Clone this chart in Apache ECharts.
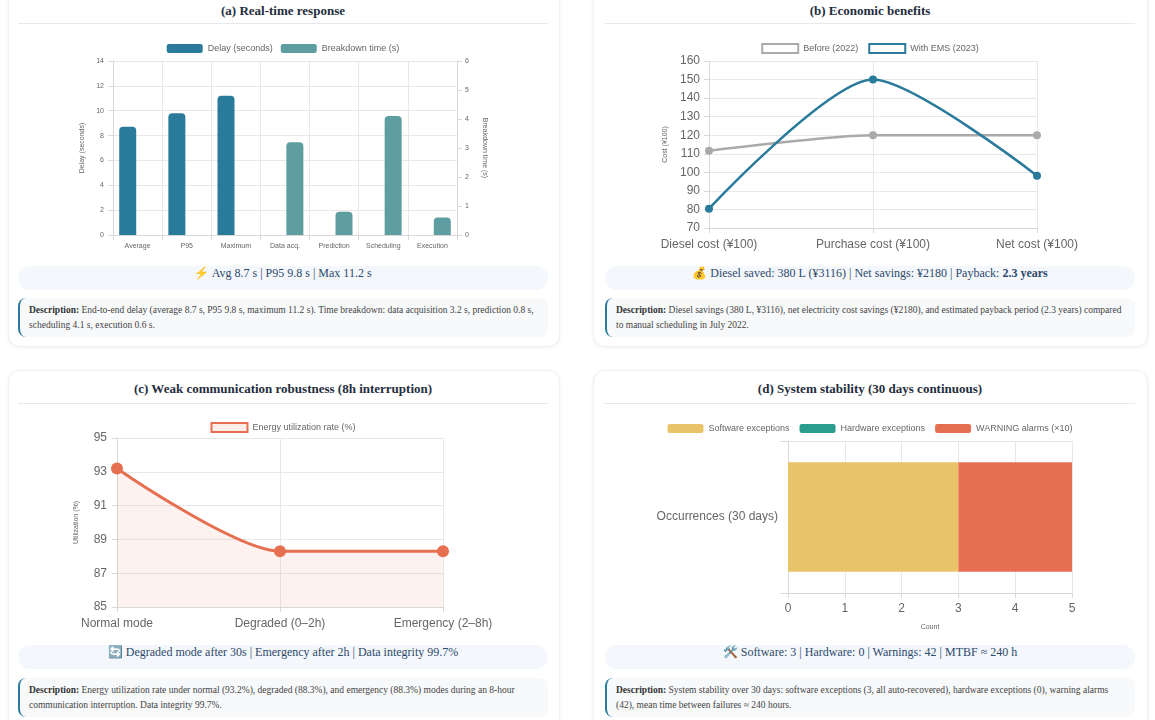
<!DOCTYPE html>
<html>
<head>
<meta charset="utf-8">
<script src="https://cdn.jsdelivr.net/npm/echarts@6/dist/echarts.min.js"></script>
<style>
  html, body { margin: 0; padding: 0; background: #fff; width: 1155px; height: 720px; overflow: hidden; }
  .card { position: absolute; background: #fff; border: 1px solid #eef0f3; border-radius: 12px; box-shadow: 0 1px 4px rgba(0,0,0,0.06); }
  .title { position: absolute; height: 20px; line-height: 20px; text-align: center; font: bold 13px "Liberation Serif", serif; color: #1f2d3d; }
  .sep { position: absolute; height: 1px; background: #e6e8eb; }
  .chart { position: absolute; }
  .stat { position: absolute; height: 24px; line-height: 24px; border-radius: 12px; background: #f4f7fb; text-align: center; font: 12px "Liberation Serif", serif; color: #2c4a6b; }
  .desc { position: absolute; box-sizing: border-box; background: #f8f9fa; border-left: 2.5px solid #2a7a9b; border-radius: 8px; padding: 5px 9px; font: 9.5px/15px "Liberation Serif", serif; color: #444; }
  .desc b { color: #333; }
</style>
</head>
<body>
<div class="card" style="left:8px;top:-12px;width:550px;height:357px"></div>
<div class="card" style="left:593px;top:-12px;width:553px;height:357px"></div>
<div class="card" style="left:8px;top:370px;width:550px;height:360px"></div>
<div class="card" style="left:593px;top:370px;width:553px;height:360px"></div>

<div class="title" style="left:18px;top:3px;width:530px">(a) Real-time response</div>
<div class="sep" style="left:18px;top:23px;width:530px"></div>
<div id="chartA" class="chart" style="left:18px;top:32px;width:530px;height:228px"></div>
<div class="stat" style="left:18px;top:266px;width:530px">⚡ Avg 8.7 s | P95 9.8 s | Max 11.2 s</div>
<div class="desc" style="left:18px;top:298px;width:530px;height:39px"><b>Description:</b> End-to-end delay (average 8.7 s, P95 9.8 s, maximum 11.2 s). Time breakdown: data acquisition 3.2 s, prediction 0.8 s, scheduling 4.1 s, execution 0.6 s.</div>

<div class="title" style="left:605px;top:3px;width:530px">(b) Economic benefits</div>
<div class="sep" style="left:605px;top:23px;width:530px"></div>
<div id="chartB" class="chart" style="left:605px;top:32px;width:530px;height:228px"></div>
<div class="stat" style="left:605px;top:266px;width:530px">💰 Diesel saved: 380 L (¥3116) | Net savings: ¥2180 | Payback: <b>2.3 years</b></div>
<div class="desc" style="left:605px;top:298px;width:530px;height:39px"><b>Description:</b> Diesel savings (380 L, ¥3116), net electricity cost savings (¥2180), and estimated payback period (2.3 years) compared to manual scheduling in July 2022.</div>

<div class="title" style="left:18px;top:381px;width:530px">(c) Weak communication robustness (8h interruption)</div>
<div class="sep" style="left:18px;top:403px;width:530px"></div>
<div id="chartC" class="chart" style="left:18px;top:410px;width:530px;height:228px"></div>
<div class="stat" style="left:18px;top:645px;width:530px">🔄 Degraded mode after 30s | Emergency after 2h | Data integrity 99.7%</div>
<div class="desc" style="left:18px;top:678px;width:530px;height:39px"><b>Description:</b> Energy utilization rate under normal (93.2%), degraded (88.3%), and emergency (88.3%) modes during an 8-hour communication interruption. Data integrity 99.7%.</div>

<div class="title" style="left:605px;top:381px;width:530px">(d) System stability (30 days continuous)</div>
<div class="sep" style="left:605px;top:403px;width:530px"></div>
<div id="chartD" class="chart" style="left:605px;top:410px;width:530px;height:228px"></div>
<div class="stat" style="left:605px;top:645px;width:530px">🛠️ Software: 3 | Hardware: 0 | Warnings: 42 | MTBF ≈ 240 h</div>
<div class="desc" style="left:605px;top:678px;width:530px;height:39px"><b>Description:</b> System stability over 30 days: software exceptions (3, all auto-recovered), hardware exceptions (0), warning alarms (42), mean time between failures ≈ 240 hours.</div>

<script>
// (a) real-time response
var rtCategories = ['Average', 'P95', 'Maximum', 'Data acq.', 'Prediction', 'Scheduling', 'Execution'];
var delayValues = [8.7, 9.8, 11.2, null, null, null, null];
var breakdownValues = [null, null, null, 3.2, 0.8, 4.1, 0.6];
var delayTicks = [0, 14, 2];
var breakdownTicks = [0, 6, 1];

// (b) economic benefits
var costCategories = ['Diesel cost (¥100)', 'Purchase cost (¥100)', 'Net cost (¥100)'];
var beforeValues = [111.6, 120, 120];
var emsValues = [80.4, 150, 98.2];

// (c) weak communication
var modeCategories = ['Normal mode', 'Degraded (0–2h)', 'Emergency (2–8h)'];
var utilValues = [93.2, 88.3, 88.3];

// (d) stability
var stabCategories = ['Occurrences (30 days)'];
var softwareValues = [3];
var hardwareValues = [0];
var warningValues = [4.2];

var FONT = '"Liberation Sans", Arial, sans-serif';
var GRID = '#e8e8e8';
var AXIS = '#d8d8d8';
var TXT = '#666';

var chartA = echarts.init(document.getElementById('chartA'));
chartA.setOption({
  textStyle: { fontFamily: FONT },
  legend: {
    top: 7, itemWidth: 36, itemHeight: 9, itemGap: 8,
    textStyle: { fontSize: 9, color: TXT },
    data: ['Delay (seconds)', 'Breakdown time (s)']
  },
  grid: { left: 95, right: 91, top: 29, bottom: 25 },
  xAxis: {
    type: 'category', data: rtCategories,
    axisLine: { lineStyle: { color: AXIS } },
    axisTick: { show: true, length: 5, lineStyle: { color: AXIS } },
    splitLine: { show: true, lineStyle: { color: GRID } },
    axisLabel: { fontSize: 7, color: TXT, margin: 8 }
  },
  yAxis: [{
    type: 'value', min: delayTicks[0], max: delayTicks[1], interval: delayTicks[2],
    name: 'Delay (seconds)', nameLocation: 'middle', nameGap: 27,
    nameTextStyle: { fontSize: 7, color: TXT },
    axisLine: { show: true, lineStyle: { color: AXIS } },
    axisTick: { show: true, length: 5, lineStyle: { color: AXIS } },
    splitLine: { lineStyle: { color: GRID } },
    axisLabel: { fontSize: 7, color: TXT, margin: 9 }
  }, {
    type: 'value', min: breakdownTicks[0], max: breakdownTicks[1], interval: breakdownTicks[2],
    name: 'Breakdown time (s)', nameLocation: 'middle', nameGap: 24, nameRotate: -90,
    nameTextStyle: { fontSize: 7, color: TXT },
    axisLine: { show: true, lineStyle: { color: AXIS } },
    axisTick: { show: true, length: 5, lineStyle: { color: AXIS } },
    splitLine: { show: false },
    axisLabel: { fontSize: 7, color: TXT, margin: 8 }
  }],
  series: [{
    name: 'Delay (seconds)', type: 'bar', data: delayValues, yAxisIndex: 0,
    barWidth: 17, barGap: '16%',
    itemStyle: { color: '#2a7a9b', borderRadius: [4, 4, 0, 0] }
  }, {
    name: 'Breakdown time (s)', type: 'bar', data: breakdownValues, yAxisIndex: 1,
    barWidth: 17, barGap: '16%',
    itemStyle: { color: '#5f9ea0', borderRadius: [4, 4, 0, 0] }
  }]
});

var chartB = echarts.init(document.getElementById('chartB'));
chartB.setOption({
  textStyle: { fontFamily: FONT },
  legend: {
    top: 6, itemWidth: 36, itemHeight: 9, itemGap: 10, icon: 'rect',
    textStyle: { fontSize: 9, color: TXT },
    data: [
      { name: 'Before (2022)', itemStyle: { color: '#fff', borderColor: '#aaaaaa', borderWidth: 2 } },
      { name: 'With EMS (2023)', itemStyle: { color: '#fff', borderColor: '#2a7a9b', borderWidth: 2 } }
    ]
  },
  grid: { left: 104, right: 98, top: 29, bottom: 32 },
  xAxis: {
    type: 'category', data: costCategories, boundaryGap: false,
    axisLine: { lineStyle: { color: AXIS } },
    axisTick: { show: true, length: 5, lineStyle: { color: AXIS } },
    splitLine: { show: true, lineStyle: { color: GRID } },
    axisLabel: { fontSize: 12, color: TXT, margin: 11 }
  },
  yAxis: {
    type: 'value', min: 70, max: 160, interval: 10,
    name: 'Cost (¥100)', nameLocation: 'middle', nameGap: 40,
    nameTextStyle: { fontSize: 7, color: TXT },
    axisLine: { show: true, lineStyle: { color: AXIS } },
    axisTick: { show: true, length: 5, lineStyle: { color: AXIS } },
    splitLine: { lineStyle: { color: GRID } },
    axisLabel: { fontSize: 12, color: TXT, margin: 9 }
  },
  series: [{
    name: 'Before (2022)', type: 'line', data: beforeValues, smooth: 0.25,
    symbol: 'circle', symbolSize: 8,
    lineStyle: { color: '#aaaaaa', width: 2.5 },
    itemStyle: { color: '#aaaaaa' }
  }, {
    name: 'With EMS (2023)', type: 'line', data: emsValues, smooth: 0.25,
    symbol: 'circle', symbolSize: 8,
    lineStyle: { color: '#2a7a9b', width: 2.5 },
    itemStyle: { color: '#2a7a9b' }
  }]
});

var chartC = echarts.init(document.getElementById('chartC'));
chartC.setOption({
  textStyle: { fontFamily: FONT },
  legend: {
    top: 7, itemWidth: 36, itemHeight: 9, icon: 'rect',
    textStyle: { fontSize: 9, color: TXT },
    data: [{ name: 'Energy utilization rate (%)', itemStyle: { color: 'rgba(231,111,81,0.12)', borderColor: '#e76f51', borderWidth: 2 } }]
  },
  grid: { left: 99, right: 105, top: 28, bottom: 31 },
  xAxis: {
    type: 'category', data: modeCategories, boundaryGap: false,
    axisLine: { lineStyle: { color: AXIS } },
    axisTick: { show: true, length: 5, lineStyle: { color: AXIS } },
    splitLine: { show: true, lineStyle: { color: GRID } },
    axisLabel: { fontSize: 12, color: TXT, margin: 11 }
  },
  yAxis: {
    type: 'value', min: 85, max: 95, interval: 2,
    name: 'Utilization (%)', nameLocation: 'middle', nameGap: 37,
    nameTextStyle: { fontSize: 7, color: TXT },
    axisLine: { show: true, lineStyle: { color: AXIS } },
    axisTick: { show: true, length: 5, lineStyle: { color: AXIS } },
    splitLine: { lineStyle: { color: GRID } },
    axisLabel: { fontSize: 12, color: TXT, margin: 10 }
  },
  series: [{
    name: 'Energy utilization rate (%)', type: 'line', data: utilValues, smooth: 0.25,
    symbol: 'circle', symbolSize: 12,
    lineStyle: { color: '#e76f51', width: 3 },
    itemStyle: { color: '#e76f51' },
    areaStyle: { color: 'rgba(231,111,81,0.13)' }
  }]
});

var chartD = echarts.init(document.getElementById('chartD'));
chartD.setOption({
  textStyle: { fontFamily: FONT },
  legend: {
    top: 9, itemWidth: 36, itemHeight: 9, itemGap: 10,
    textStyle: { fontSize: 9, color: TXT },
    data: ['Software exceptions', 'Hardware exceptions', 'WARNING alarms (×10)']
  },
  grid: { left: 183, right: 63, top: 31, bottom: 45 },
  xAxis: {
    type: 'value', min: 0, max: 5, interval: 1,
    name: 'Count', nameLocation: 'middle', nameGap: 31,
    nameTextStyle: { fontSize: 7, color: TXT },
    axisLine: { show: true, lineStyle: { color: AXIS } },
    axisTick: { show: true, length: 5, lineStyle: { color: AXIS } },
    splitLine: { lineStyle: { color: GRID } },
    axisLabel: { fontSize: 12, color: TXT, margin: 10 }
  },
  yAxis: {
    type: 'category', data: stabCategories,
    axisLine: { show: true, lineStyle: { color: AXIS } },
    axisTick: { show: true, length: 8, lineStyle: { color: AXIS } },
    splitLine: { show: true, lineStyle: { color: GRID } },
    axisLabel: { fontSize: 12, color: TXT, margin: 10 }
  },
  series: [{
    name: 'Software exceptions', type: 'bar', stack: 'all', data: softwareValues,
    barWidth: '72%', itemStyle: { color: '#e9c46a' }
  }, {
    name: 'Hardware exceptions', type: 'bar', stack: 'all', data: hardwareValues,
    barWidth: '72%', itemStyle: { color: '#2a9d8f' }
  }, {
    name: 'WARNING alarms (×10)', type: 'bar', stack: 'all', data: warningValues,
    barWidth: '72%', itemStyle: { color: '#e76f51' }
  }]
});

window.addEventListener('resize', function () {
  chartA.resize(); chartB.resize(); chartC.resize(); chartD.resize();
});
</script>
</body>
</html>
